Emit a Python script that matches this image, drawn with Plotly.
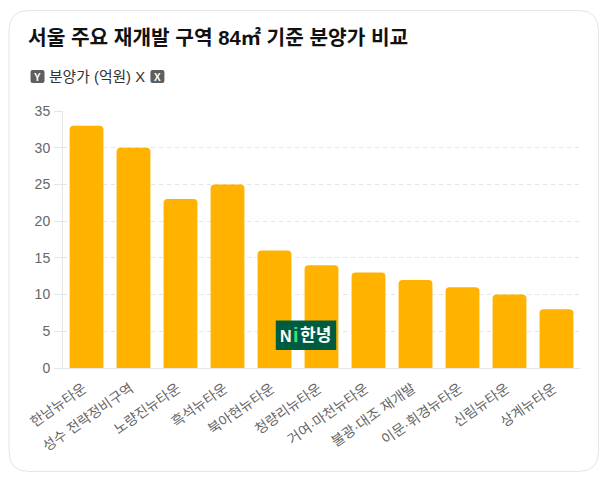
import plotly.graph_objects as go

categories = ["한남뉴타운", "성수 전략정비구역", "노량진뉴타운", "흑석뉴타운", "북아현뉴타운", "청량리뉴타운",
              "거여·마천뉴타운", "불광·대조 재개발", "이문·휘경뉴타운", "신림뉴타운", "상계뉴타운"]
values = [33, 30, 23, 25, 16, 14, 13, 12, 11, 10, 8]
y_ticks = [0, 5, 10, 15, 20, 25, 30, 35]
title_text = "서울 주요 재개발 구역 84㎡ 기준 분양가 비교"
legend_text = "분양가 (억원) X"

OFF = 8  # page body margin
W, H = 612 - 2 * OFF, 486 - 2 * OFF
L, R, T, B = 62.5, 580, 111, 368
PW, PH = R - L, B - T
FONT = "Liberation Sans, Noto Sans CJK KR, sans-serif"

def px(x): return (x - L) / PW
def py(y): return (B - y) / PH

fig = go.Figure(go.Bar(x=categories, y=values, marker=dict(color="#FFB300", cornerradius=4, line=dict(width=0)),
                       hoverinfo="x+y"))

def rrect(x0, y0, x1, y1, r):
    a, b, c, d = px(x0), px(x1), py(y0), py(y1)
    rx, ry = r / PW, r / PH
    return (f"M{a+rx},{c} L{b-rx},{c} Q{b},{c} {b},{c-ry} L{b},{d+ry} Q{b},{d} {b-rx},{d} "
            f"L{a+rx},{d} Q{a},{d} {a},{d+ry} L{a},{c-ry} Q{a},{c} {a+rx},{c} Z")

shapes = [
    dict(type="path", xref="paper", yref="paper", path=rrect(8.5, 10.5, 598.5, 471.5, 20),
         line=dict(color="#E5E5E5", width=1), fillcolor="white", layer="below"),
    dict(type="path", xref="paper", yref="paper", path=rrect(30, 70, 44, 83, 2), line=dict(width=0), fillcolor="#5F5F5F"),
    dict(type="path", xref="paper", yref="paper", path=rrect(150, 70, 164, 83, 2), line=dict(width=0), fillcolor="#5F5F5F"),
    dict(type="rect", xref="paper", yref="paper", x0=px(275.5), x1=px(336), y0=py(320.5), y1=py(350),
         line=dict(width=0), fillcolor="#005C3E"),
]

def note(x, y, text, size, color, anchor="left", **kw):
    return dict(xref="paper", yref="paper", x=px(x), y=py(y), text=text, showarrow=False, xanchor=anchor,
                yanchor="middle", font=dict(size=size, color=color, family=FONT), borderpad=0, **kw)

annotations = [
    note(26, 38, f"<b>{title_text}</b>", 20.25, "#111111"),
    note(47, 77, legend_text, 14.8, "#333333"),
    note(37, 77, "<b>Y</b>", 10, "white", "center"),
    note(157, 77, "<b>X</b>", 10, "white", "center"),
    note(279, 336, "<b>N</b>", 16, "white", "left"),
    note(291.5, 335, "<b>i</b>", 20, "#3DDC84", "left"),
    note(299, 335, "<b>한녕</b>", 17, "white", "left"),
]

fig.update_layout(
    width=W, height=H, autosize=False,
    margin=dict(l=L - OFF, r=W + OFF - R, t=T - OFF, b=H + OFF - B, pad=0),
    paper_bgcolor="white", plot_bgcolor="rgba(0,0,0,0)",
    showlegend=False, shapes=shapes, annotations=annotations, bargap=0.28,
    font=dict(family=FONT),
    xaxis=dict(type="category", categoryorder="array", categoryarray=categories,
               tickangle=-35, tickfont=dict(size=14, color="#666666"), showline=True, linecolor="#E5E5E5",
               linewidth=1, ticks="", showgrid=False, fixedrange=True,
               ticklabelstandoff=6, ticklabelshift=-3),
    yaxis=dict(range=[0, 35], tickvals=y_ticks, tickfont=dict(size=14, color="#666666"), showline=True,
               linecolor="#E5E5E5", linewidth=1, gridcolor="#E5E5E5", griddash="4px,4px", gridwidth=1,
               ticks="outside", ticklen=8, tickcolor="#E5E5E5", zeroline=False, fixedrange=True,
               ticklabelstandoff=1),
)
fig.write_html("out.html", config=dict(displayModeBar=False))
